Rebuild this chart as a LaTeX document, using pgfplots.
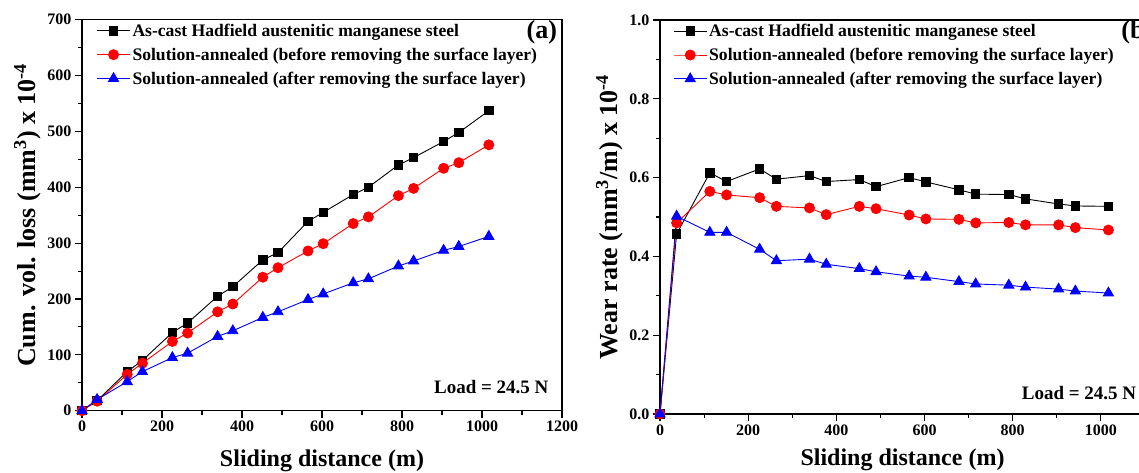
\documentclass[border=0pt]{standalone}
\usepackage{fontspec}
\setmainfont{Liberation Serif}
\usepackage{pgfplots}
\pgfplotsset{compat=1.18}
\usepackage{pgfplotstable}

\pgfplotstableread{
x cast before after
0 0 0 0
37.7 18 17 20
113 70 65 52
151 90 85 70
226 140 124 95
264 157 139 103
339 205 177 133
377 222 191 143
452 270 239 167
490 283 256 177
565 339 286 199
603 355 299 209
678 387 335 229
716 400 347 236
791 440 385 259
829 453 398 268
904 482 434 287
942 498 444 294
1017 537 476 312
}\cumtable

\pgfplotstableread{
x cast before after
0 0 0 0
37.7 0.457 0.485 0.502
113 0.612 0.565 0.461
151 0.590 0.556 0.461
226 0.622 0.549 0.418
264 0.596 0.527 0.389
339 0.605 0.523 0.393
377 0.590 0.506 0.380
452 0.595 0.527 0.369
490 0.577 0.521 0.361
565 0.600 0.505 0.350
603 0.589 0.495 0.347
678 0.569 0.494 0.336
716 0.558 0.485 0.330
791 0.557 0.486 0.327
829 0.546 0.480 0.322
904 0.533 0.480 0.317
942 0.528 0.473 0.312
1017 0.527 0.467 0.307
}\ratetable

\pgfplotsset{
  panel/.style={
    scale only axis,
    xmin=0,
    minor x tick num=1,
    minor y tick num=1,
    xtick pos=bottom, ytick pos=left,
    tick align=outside,
    major tick length=7pt,
    minor tick length=4pt,
    axis line style={line width=1.2pt},
    every tick/.style={black, line width=1.1pt},
    /pgf/number format/assume math mode=true,
    /pgf/number format/set thousands separator={},
    tick label style={font=\bfseries\fontsize{16}{16}\selectfont},
    xlabel style={font=\bfseries\fontsize{24}{24}\selectfont},
    ylabel style={font=\bfseries\fontsize{26}{26}\selectfont},
    legend style={draw=none, fill=none, font=\bfseries\fontsize{17.6}{17.6}\selectfont,
      anchor=north west, row sep=6pt, inner sep=0pt, cells={anchor=west}},
    legend image code/.code={\draw[mark repeat=2,mark phase=2,##1] plot coordinates {(0pt,0pt) (16.5pt,0pt) (33pt,0pt)};},
    clip=false,
  },
  castst/.style={black, line width=0.9pt, mark=square*, mark size=4.2pt, mark options={solid}},
  beforest/.style={red, line width=0.9pt, mark=*, mark size=5pt, mark options={solid}},
  afterst/.style={blue, line width=0.9pt, mark=triangle*, mark size=5.8pt, mark options={solid}},
}

\begin{document}
\begin{tikzpicture}
\begin{axis}[panel,
  at={(82pt,62.3pt)}, anchor=south west,
  width=480pt, height=391pt,
  xmax=1200, xtick={0,200,...,1200},
  ymin=0, ymax=700, ytick={0,100,...,700},
  xlabel={Sliding distance (m)},
  xlabel style={yshift=-11pt},
  ylabel={Cum. vol. loss (mm\textsuperscript{3}) x 10\textsuperscript{-4}},
  legend style={at={(0.03,0.995)}},
]
\addplot[castst] table[x=x,y=cast] {\cumtable};
\addlegendentry{As-cast Hadfield austenitic manganese steel}
\addplot[beforest] table[x=x,y=before] {\cumtable};
\addlegendentry{Solution-annealed (before removing the surface layer)}
\addplot[afterst] table[x=x,y=after] {\cumtable};
\addlegendentry{Solution-annealed (after removing the surface layer)}
\node[anchor=east, font=\bfseries\fontsize{26}{26}\selectfont] at (rel axis cs:0.997,0.968) {(a)};
\node[anchor=east, font=\bfseries\fontsize{19}{19}\selectfont] at (axis cs:1175,42) {Load = 24.5 N};
\end{axis}

\begin{axis}[panel,
  at={(660pt,59pt)}, anchor=south west,
  width=485pt, height=394pt,
  xmax=1100, xtick={0,200,...,1000},
  ymin=0, ymax=1.0, ytick={0,0.2,...,1.0},
  yticklabel style={/pgf/number format/.cd, fixed, fixed zerofill, precision=1},
  xlabel={Sliding distance (m)},
  xlabel style={yshift=-7pt},
  ylabel={Wear rate (mm\textsuperscript{3}/m) x 10\textsuperscript{-4}},
  legend style={at={(0.027,0.995)}},
]
\addplot[castst] table[x=x,y=cast] {\ratetable};
\addlegendentry{As-cast Hadfield austenitic manganese steel}
\addplot[beforest] table[x=x,y=before] {\ratetable};
\addlegendentry{Solution-annealed (before removing the surface layer)}
\addplot[afterst] table[x=x,y=after] {\ratetable};
\addlegendentry{Solution-annealed (after removing the surface layer)}
\node[anchor=west, font=\bfseries\fontsize{26}{26}\selectfont] at (rel axis cs:0.944,0.968) {(b)};
\node[anchor=east, font=\bfseries\fontsize{19}{19}\selectfont] at (axis cs:1088,0.054) {Load = 24.5 N};
\end{axis}
\pgfresetboundingbox
\path[use as bounding box] (0,0) rectangle (1139pt,473pt);
\end{tikzpicture}
\end{document}
